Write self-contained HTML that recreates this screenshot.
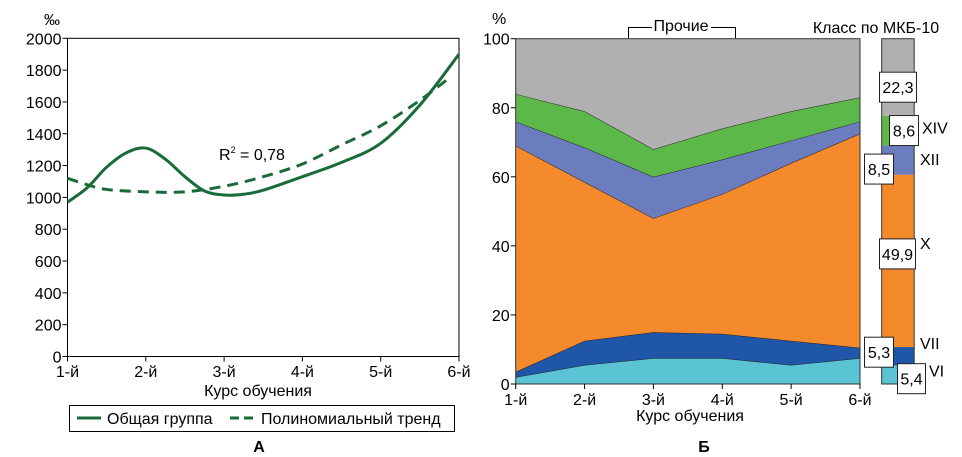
<!DOCTYPE html>
<html><head><meta charset="utf-8"><style>
html,body{margin:0;padding:0;background:#fff;}
svg{display:block;font-family:"Liberation Sans","Noto Sans CJK JP",sans-serif;}
</style></head><body>
<svg id="s" width="962" height="457" viewBox="0 0 962 457" xmlns="http://www.w3.org/2000/svg">
<g id="left"></g>
<g id="right"></g>
</svg>
<script>
// ---- Chart A data ----
const courses = ["1-й","2-й","3-й","4-й","5-й","6-й"];
const yTicksA = [0,200,400,600,800,1000,1200,1400,1600,1800,2000];
const solidX = [1,1.25,1.5,1.75,2,2.25,2.5,2.75,3,3.25,3.5,4,4.5,5,5.5,6];
const solidY = [970,1060,1190,1280,1310,1240,1130,1040,1015,1020,1045,1130,1220,1340,1580,1900];
const trendX = [1,1.25,1.5,2,2.5,3,3.5,4,4.5,5,5.5,5.9];
const trendY = [1120,1080,1050,1035,1035,1070,1130,1210,1330,1450,1610,1760];
// ---- Chart B data (percent per class) ----
const classVI  = [2,5.5,7.5,7.5,5.5,7.5];
const classVII = [1.5,7,7.5,7,7,3];
const classX   = [65.5,46,33,40.5,51.5,62];
const classXII = [7,10,12,10,6.5,3.5];
const classXIV = [8,10.5,8,9,8.5,7];
const yTicksB = [0,20,40,60,80,100];
const summaryVals = [5.4,5.3,49.9,8.5,8.6,22.3];
const summaryLabels = ["5,4","5,3","49,9","8,5","8,6","22,3"];

const NS="http://www.w3.org/2000/svg";
const FS=16;
function mk(tag,attrs,parent,txt){const e=document.createElementNS(NS,tag);for(const k in attrs)e.setAttribute(k,attrs[k]);if(txt!==undefined)e.textContent=txt;parent.appendChild(e);return e;}
function smooth(pts){let d=`M${pts[0][0]},${pts[0][1]}`;for(let i=0;i<pts.length-1;i++){const p0=pts[i-1]||pts[i],p1=pts[i],p2=pts[i+1],p3=pts[i+2]||p2;const c1x=p1[0]+(p2[0]-p0[0])/6,c1y=p1[1]+(p2[1]-p0[1])/6,c2x=p2[0]-(p3[0]-p1[0])/6,c2y=p2[1]-(p3[1]-p1[1])/6;d+=` C${c1x},${c1y} ${c2x},${c2y} ${p2[0]},${p2[1]}`;}return d;}

// ---------- Chart A ----------
const A=document.getElementById('left');
const ax0=67.5,ax1=459,ay0=356.5,ay1=38.3;
const xA=v=>ax0+(v-1)*(ax1-ax0)/5;
const yA=v=>ay0-v*(ay0-ay1)/2000;
let e;
e=mk('rect',{x:ax0,y:ay1,width:ax1-ax0,height:ay0-ay1,fill:'none',stroke:'#000','stroke-width':1},A);

yTicksA.forEach(t=>{
 e=mk('line',{x1:ax0-5,x2:ax0,y1:yA(t),y2:yA(t),stroke:'#000'},A);
 
 e=mk('text',{x:ax0-6,y:yA(t)+6,'text-anchor':'end','font-size':FS},A,String(t));
 
});
courses.forEach((c,i)=>{
 e=mk('line',{x1:xA(i+1),x2:xA(i+1),y1:ay0,y2:ay0+5,stroke:'#000'},A);
 
 e=mk('text',{x:xA(i+1),y:377,'text-anchor':'middle','font-size':FS},A,c);
 
});
e=mk('text',{x:44,y:25,'font-size':FS},A,'‰');
e=mk('text',{x:258,y:396,'text-anchor':'middle','font-size':FS},A,'Курс обучения');
e=mk('path',{d:smooth(trendX.map((x,i)=>[xA(x),yA(trendY[i])])),fill:'none',stroke:'#1a6b3a','stroke-width':3,'stroke-dasharray':'11,7'},A);

e=mk('path',{d:smooth(solidX.map((x,i)=>[xA(x),yA(solidY[i])])),fill:'none',stroke:'#1a6b3a','stroke-width':3},A);

e=mk('text',{x:219,y:160,'font-size':FS},A);
e.innerHTML='R<tspan dy="-7" font-size="9">2</tspan><tspan dy="7"> = 0,78</tspan>';
const lg=mk('g',{},A);
mk('rect',{x:69.5,y:405.5,width:385,height:26,fill:'#fff',stroke:'#000'},lg);
mk('line',{x1:77,x2:101,y1:418,y2:418,stroke:'#1a6b3a','stroke-width':3},lg);
e=mk('text',{x:107,y:424,'font-size':FS},lg,'Общая группа');
mk('line',{x1:230,x2:256,y1:418,y2:418,stroke:'#1a6b3a','stroke-width':3,'stroke-dasharray':'9,5'},lg);
e=mk('text',{x:261,y:424,'font-size':FS},lg,'Полиномиальный тренд');
e=mk('text',{x:259,y:452,'text-anchor':'middle','font-size':FS,'font-weight':'bold'},A,'А');

// ---------- Chart B ----------
const B=document.getElementById('right');
const bx0=515.7,bx1=860,by0=384,by1=38.7;
const xB=i=>bx0+i*(bx1-bx0)/5;
const yB=v=>by0-v*(by0-by1)/100;
const layers=[classVI,classVII,classX,classXII,classXIV];
const colors=['#5bc4d4','#1f56a8','#f58a2c','#6b7dbf','#5db84a','#b0b0b0'];
const names=['area-class-vi','area-class-vii','area-class-x','area-class-xii','area-class-xiv','area-other'];
let base=courses.map(()=>0);
const tops=[];
layers.forEach(l=>{const t=base.map((b,i)=>b+l[i]);tops.push([base,t]);base=t;});
tops.push([base,courses.map(()=>100)]);
tops.forEach((pr,k)=>{
 const [lo,hi]=pr;
 let d='M'+hi.map((v,i)=>`${xB(i)},${yB(v)}`).join(' L')+' L'+lo.map((v,i)=>`${xB(i)},${yB(v)}`).reverse().join(' L')+'Z';
 e=mk('path',{d:d,fill:colors[k],stroke:'none'},B);
 
 if(k<5){e=mk('polyline',{points:hi.map((v,i)=>`${xB(i)},${yB(v)}`).join(' '),fill:'none',stroke:'#222','stroke-width':1},B);
 }
});
e=mk('rect',{x:bx0,y:by1,width:bx1-bx0,height:by0-by1,fill:'none',stroke:'#333'},B);

yTicksB.forEach(t=>{
 e=mk('line',{x1:bx0-5,x2:bx0,y1:yB(t),y2:yB(t),stroke:'#000'},B);
 
 e=mk('text',{x:bx0-6,y:yB(t)+6,'text-anchor':'end','font-size':FS},B,String(t));
 
});
courses.forEach((c,i)=>{
 e=mk('line',{x1:xB(i),x2:xB(i),y1:by0,y2:by0+5,stroke:'#000'},B);
 
 e=mk('text',{x:xB(i),y:405,'text-anchor':'middle','font-size':FS},B,c);
 
});
e=mk('text',{x:492,y:24,'font-size':FS},B,'%');
e=mk('text',{x:690,y:421,'text-anchor':'middle','font-size':FS},B,'Курс обучения');
e=mk('path',{d:'M628.5,38 V27.5 H652 M711,27.5 H735.5 V38',fill:'none',stroke:'#000'},B);
e=mk('text',{x:681,y:31,'text-anchor':'middle','font-size':FS},B,'Прочие');
e=mk('text',{x:876,y:33,'text-anchor':'middle','font-size':FS},B,'Класс по МКБ-10');
// summary bar
const sx=881.7,sw=32.5;
let cum=0;
const segTops=[];
summaryVals.forEach((v,k)=>{
 const top=(k===summaryVals.length-1)?100:cum+v;
 e=mk('rect',{x:sx,y:yB(top),width:sw,height:yB(cum)-yB(top),fill:colors[k],stroke:'none'},B);
 
 segTops.push([cum,top]);cum=top;
});
e=mk('rect',{x:sx,y:yB(100),width:sw,height:yB(0)-yB(100),fill:'none',stroke:'#333'},B);

const boxX=[897,864,879,864,889,879];
const boxW=[28,29,36,29,29,37];
const boxDy=[4,-4,-7,9,0,10];
const roman=['VI','VII','X','XII','XIV',null];
const romanX=[929,920,920,920,922,0];
const romanDy=[-4,-13,-18,-1,-3,0];
summaryLabels.forEach((s,k)=>{
 const [lo,hi]=segTops[k];
 const cy=(yB(lo)+yB(hi))/2+boxDy[k];
 e=mk('rect',{x:boxX[k]+0.5,y:cy-15,width:boxW[k],height:30,fill:'#fff',stroke:'#222'},B);
 
 e=mk('text',{x:boxX[k]+boxW[k]/2+0.5,y:cy+6,'text-anchor':'middle','font-size':FS},B,s);
 
 if(roman[k]){e=mk('text',{x:romanX[k],y:(yB(lo)+yB(hi))/2+romanDy[k]+6,'font-size':FS},B,roman[k]);
 }
});
e=mk('text',{x:704,y:452,'text-anchor':'middle','font-size':FS,'font-weight':'bold'},B,'Б');
</script>
</body></html>
